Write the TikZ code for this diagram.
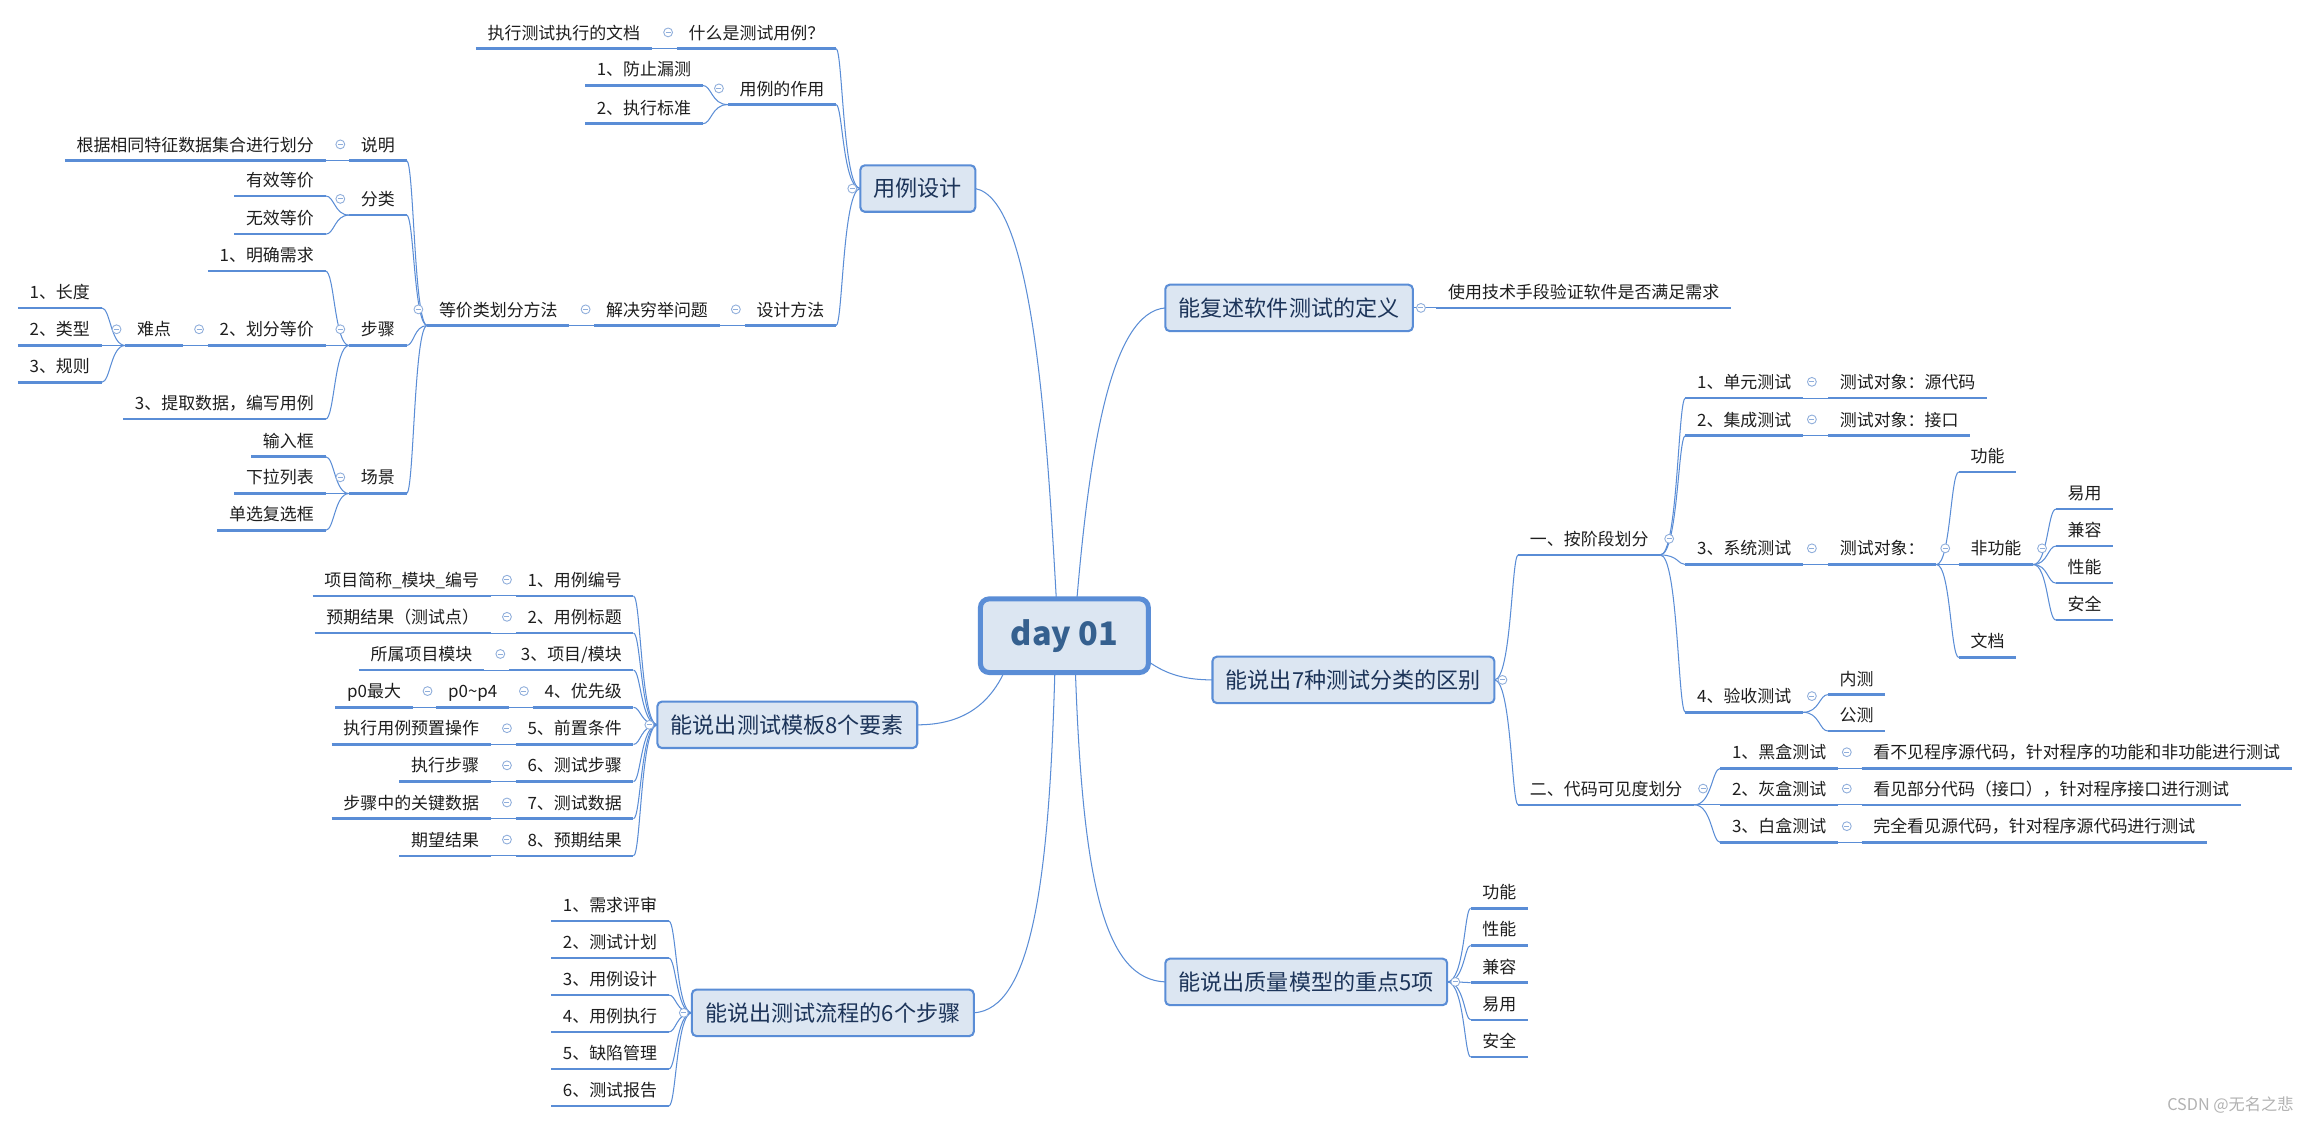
\documentclass[tikz,border=0pt]{standalone}
\usepackage{fontspec}
\setmainfont{Noto Sans CJK SC}
\usetikzlibrary{calc}
\definecolor{lc}{HTML}{5A8DD6}
\definecolor{tfill}{HTML}{DCE6F2}
\definecolor{tc}{HTML}{1C3459}
\definecolor{togc}{HTML}{8FAEDB}
\definecolor{dayc}{HTML}{35608F}
\definecolor{lt}{HTML}{1E1E1E}
\newcommand\mmbr[3]{\draw[conn] let \p1=(#1), \p2=(#2) in (\p1) .. controls (#3pt,\y1) and (#3pt,\y2) .. (\p2);}
\newcommand\tgL[1]{\node[tog] (#1t) at ([xshift=-6pt,yshift=11pt]#1.south west) {};}
\newcommand\tgR[1]{\node[tog] (#1t) at ([xshift=6pt,yshift=11pt]#1.south east) {};}
\begin{document}
\begin{tikzpicture}[x=1pt,y=-1pt,
  conn/.style={draw=lc, line width=0.7pt},
  uline/.style={draw=lc, line width=1.7pt},
  leaf/.style={font=\fontsize{11.5}{13}\selectfont, text=lt, inner xsep=8pt, inner ysep=0pt, outer sep=0pt,
    text height=12pt, text depth=6.5pt,
    append after command={\pgfextra{\draw[uline] (\tikzlastnode.south west) -- (\tikzlastnode.south east);}}},
  L/.style={leaf, anchor=south east},
  R/.style={leaf, anchor=south west},
  topic/.style={draw=lc, fill=tfill, line width=1.4pt, rounded corners=3pt, font=\fontsize{15}{17}\selectfont,
    text=tc, inner xsep=9pt, inner ysep=0pt, minimum height=31.5pt, outer sep=0pt},
  daybox/.style={draw=lc, fill=tfill, line width=3.4pt, rounded corners=6pt, font=\fontsize{22}{24}\selectfont\bfseries,
    text=dayc, minimum width=114pt, minimum height=50pt, inner sep=0pt, outer sep=0pt},
  tog/.style={circle, draw=togc, fill=white, line width=0.6pt, minimum size=6pt, inner sep=0pt,
    path picture={\draw[togc, line width=0.6pt] ([xshift=-1.7pt]path picture bounding box.center) -- ([xshift=1.7pt]path picture bounding box.center);}}
]
\useasboundingbox (0,0) rectangle (1568,762);
\fill[white] (0,0) rectangle (1568,762);

% ---------- center ----------
\node[daybox] (day) at (722.5,431.5) {day 01};

% ---------- 用例设计 ----------
\node[topic, anchor=east] (A) at (662,128) {用例设计};
\node[L] (A1) at (567.5,33) {什么是测试用例？};
\node[L] (A11) at ([xshift=-17pt]A1.south west) {执行测试执行的文档};
\node[L] (A2) at (567.5,71) {用例的作用};
\node[L] (A21) at (477,58) {1、防止漏测};
\node[L] (A22) at (477,84) {2、执行标准};
\node[L] (A3) at (567.5,221) {设计方法};
\node[L] (A31) at ([xshift=-17pt]A3.south west) {解决穷举问题};
\node[L] (A32) at ([xshift=-17pt]A31.south west) {等价类划分方法};
\node[L] (E1) at (276,109) {说明};
\node[L] (E11) at ([xshift=-16pt]E1.south west) {根据相同特征数据集合进行划分};
\node[L] (E2) at (276,146) {分类};
\node[L] (E21) at (221,133) {有效等价};
\node[L] (E22) at (221,159) {无效等价};
\node[L] (E3) at (276,234.5) {步骤};
\node[L] (E31) at (221,184) {1、明确需求};
\node[L] (E32) at (221,234.5) {2、划分等价};
\node[L] (E33) at (221,284.5) {3、提取数据，编写用例};
\node[L] (E4) at ([xshift=-17pt]E32.south west) {难点};
\node[L] (E41) at (69,209) {1、长度};
\node[L] (E42) at (69,234.5) {2、类型};
\node[L] (E43) at (69,259.5) {3、规则};
\node[L] (E5) at (276,335) {场景};
\node[L] (E51) at (221,310) {输入框};
\node[L] (E52) at (221,335) {下拉列表};
\node[L] (E53) at (221,360) {单选复选框};

% ---------- 测试模板 ----------
\node[topic, anchor=east] (B) at (622.6,492) {能说出测试模板8个要素};
\node[L] (B1) at (430,404.5) {1、用例编号};
\node[L] (B11) at ([xshift=-17pt]B1.south west) {项目简称\_模块\_编号};
\node[L] (B2) at (430,429.7) {2、用例标题};
\node[L] (B21) at ([xshift=-17pt]B2.south west) {预期结果（测试点）};
\node[L] (B3) at (430,454.9) {3、项目/模块};
\node[L] (B31) at ([xshift=-17pt]B3.south west) {所属项目模块};
\node[L] (B4) at (430,480.1) {4、优先级};
\node[L] (B41) at ([xshift=-16pt]B4.south west) {p0\textasciitilde p4};
\node[L] (B42) at ([xshift=-16pt]B41.south west) {p0最大};
\node[L] (B5) at (430,505.3) {5、前置条件};
\node[L] (B51) at ([xshift=-17pt]B5.south west) {执行用例预置操作};
\node[L] (B6) at (430,530.5) {6、测试步骤};
\node[L] (B61) at ([xshift=-17pt]B6.south west) {执行步骤};
\node[L] (B7) at (430,555.7) {7、测试数据};
\node[L] (B71) at ([xshift=-17pt]B7.south west) {步骤中的关键数据};
\node[L] (B8) at (430,580.9) {8、预期结果};
\node[L] (B81) at ([xshift=-17pt]B8.south west) {期望结果};

% ---------- 测试流程 ----------
\node[topic, anchor=east] (C) at (661,687.5) {能说出测试流程的6个步骤};
\node[L] (C1) at (454,625.2) {1、需求评审};
\node[L] (C2) at (454,650.3) {2、测试计划};
\node[L] (C3) at (454,675.4) {3、用例设计};
\node[L] (C4) at (454,700.5) {4、用例执行};
\node[L] (C5) at (454,725.6) {5、缺陷管理};
\node[L] (C6) at (454,750.7) {6、测试报告};

% ---------- 定义 ----------
\node[topic, anchor=west] (D) at (791,209) {能复述软件测试的定义};
\node[R] (D1) at ([xshift=16pt]D.east) {使用技术手段验证软件是否满足需求};

% ---------- 测试分类 ----------
\node[topic, anchor=west] (F) at (823,461.5) {能说出7种测试分类的区别};
\node[R] (F1) at (1030.5,376.7) {一、按阶段划分};
\node[R] (F11) at (1144,270.2) {1、单元测试};
\node[R] (F111) at ([xshift=17pt]F11.south east) {测试对象：源代码};
\node[R] (F12) at (1144,295.7) {2、集成测试};
\node[R] (F121) at ([xshift=17pt]F12.south east) {测试对象：接口};
\node[R] (F13) at (1144,383.2) {3、系统测试};
\node[R] (F131) at ([xshift=17pt]F13.south east) {测试对象：};
\node[R] (F1311) at (1329.6,320.4) {功能};
\node[R] (F1312) at (1329.6,383.2) {非功能};
\node[R] (F1313) at (1329.6,446.3) {文档};
\node[R] (F13121) at (1395.5,345.6) {易用};
\node[R] (F13122) at (1395.5,370.7) {兼容};
\node[R] (F13123) at (1395.5,395.8) {性能};
\node[R] (F13124) at (1395.5,420.9) {安全};
\node[R] (F14) at (1144,483.5) {4、验收测试};
\node[R] (F141) at (1240.7,471.5) {内测};
\node[R] (F142) at (1240.7,496.2) {公测};
\node[R] (F2) at (1030.5,546.3) {二、代码可见度划分};
\node[R] (F21) at (1167.7,521.6) {1、黑盒测试};
\node[R] (F211) at ([xshift=16pt]F21.south east) {看不见程序源代码，针对程序的功能和非功能进行测试};
\node[R] (F22) at (1167.7,546.3) {2、灰盒测试};
\node[R] (F221) at ([xshift=16pt]F22.south east) {看见部分代码（接口），针对程序接口进行测试};
\node[R] (F23) at (1167.7,571.8) {3、白盒测试};
\node[R] (F231) at ([xshift=16pt]F23.south east) {完全看见源代码，针对程序源代码进行测试};

% ---------- 质量模型 ----------
\node[topic, anchor=west] (G) at (791,666.5) {能说出质量模型的重点5项};
\node[R] (G1) at (998.2,616.6) {功能};
\node[R] (G2) at (998.2,641.8) {性能};
\node[R] (G3) at (998.2,667.0) {兼容};
\node[R] (G4) at (998.2,692.2) {易用};
\node[R] (G5) at (998.2,717.4) {安全};

\node[font=\fontsize{11}{12}\selectfont, text=black!30, anchor=east, inner sep=0pt] (wm) at (1557,750) {CSDN @无名之悲};

% ---------- main connectors ----------
\draw[conn] ([xshift=-5.5pt]day.north) .. controls (710,280) and (700,135) .. (A.east);
\draw[conn] ([xshift=8.5pt]day.north) .. controls (740,300) and (755,212) .. (D.west);
\draw[conn] ([xshift=-6.5pt]day.south) .. controls (712,600) and (700,685) .. (C.east);
\draw[conn] ([xshift=7.5pt]day.south) .. controls (735,600) and (750,665) .. (G.west);
\draw[conn] ([xshift=16pt]day.south west) .. controls (668,485) and (645,492) .. (B.east);
\draw[conn] ([yshift=-17.5pt]day.east) .. controls (792,458) and (805,461.5) .. (F.west);

% ---------- branch connectors (left) ----------
\foreach \c in {A1,A2,A3} {\mmbr{A.west}{\c.south east}{572}}
\draw[conn] (A1.south west) -- (A11.south east);
\foreach \c in {A21,A22} {\mmbr{A2.south west}{\c.south east}{483}}
\draw[conn] (A3.south west) -- (A31.south east);
\draw[conn] (A31.south west) -- (A32.south east);
\foreach \c in {E1,E2,E3,E5} {\mmbr{A32.south west}{\c.south east}{281}}
\draw[conn] (E1.south west) -- (E11.south east);
\foreach \c in {E21,E22} {\mmbr{E2.south west}{\c.south east}{227}}
\foreach \c in {E31,E32,E33} {\mmbr{E3.south west}{\c.south east}{227}}
\draw[conn] (E32.south west) -- (E4.south east);
\foreach \c in {E41,E42,E43} {\mmbr{E4.south west}{\c.south east}{75}}
\foreach \c in {E51,E52,E53} {\mmbr{E5.south west}{\c.south east}{227}}

\foreach \c in {B1,B2,B3,B4,B5,B6,B7,B8} {\mmbr{B.west}{\c.south east}{435}}
\foreach \p/\c in {B1/B11,B2/B21,B3/B31,B4/B41,B41/B42,B5/B51,B6/B61,B7/B71,B8/B81}
  {\draw[conn] (\p.south west) -- (\c.south east);}

\foreach \c in {C1,C2,C3,C4,C5,C6} {\mmbr{C.west}{\c.south east}{459}}

% ---------- branch connectors (right) ----------
\draw[conn] (D.east) -- (D1.south west);
\foreach \c in {F1,F2} {\mmbr{F.east}{\c.south west}{1026}}
\foreach \c in {F11,F12,F13,F14} {\mmbr{F1.south east}{\c.south west}{1139}}
\foreach \p/\c in {F11/F111,F12/F121,F13/F131,F21/F211,F22/F221,F23/F231}
  {\draw[conn] (\p.south east) -- (\c.south west);}
\foreach \c in {F1311,F1312,F1313} {\mmbr{F131.south east}{\c.south west}{1324}}
\foreach \c in {F13121,F13122,F13123,F13124} {\mmbr{F1312.south east}{\c.south west}{1390}}
\foreach \c in {F141,F142} {\mmbr{F14.south east}{\c.south west}{1235}}
\foreach \c in {F21,F22,F23} {\mmbr{F2.south east}{\c.south west}{1162}}
\foreach \c in {G1,G2,G3,G4,G5} {\mmbr{G.east}{\c.south west}{994}}

% ---------- toggles ----------
\node[tog] (At) at ([xshift=-5.5pt]A.west) {};
\node[tog] (Bt) at ([xshift=-5.5pt]B.west) {};
\node[tog] (Ct) at ([xshift=-5.5pt]C.west) {};
\node[tog] (Dt) at ([xshift=5.5pt]D.east) {};
\node[tog] (Ft) at ([xshift=5.5pt]F.east) {};
\node[tog] (Gt) at ([xshift=5.5pt]G.east) {};
\foreach \n in {A1,A2,A3,A31,A32,E1,E2,E3,E32,E4,E5,B1,B2,B3,B4,B41,B5,B6,B7,B8} {\tgL{\n}}
\foreach \n in {F1,F11,F12,F13,F131,F1312,F14,F2,F21,F22,F23} {\tgR{\n}}
\end{tikzpicture}
\end{document}
